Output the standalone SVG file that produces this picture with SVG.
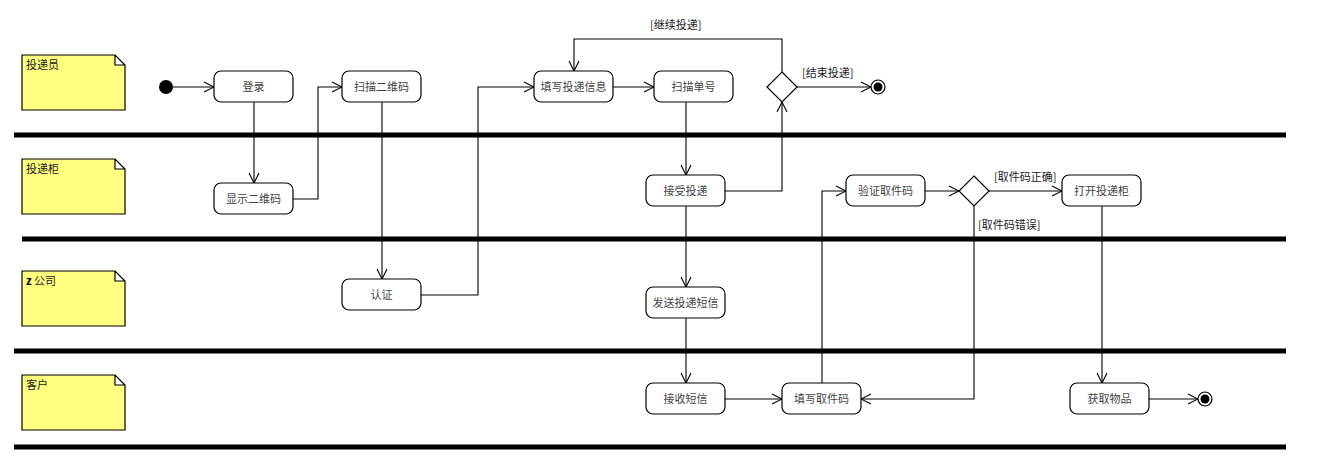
<svg xmlns="http://www.w3.org/2000/svg" width="1331" height="463" viewBox="0 0 1331 463">
<defs>
<marker id="arr" viewBox="0 0 12 12" refX="11" refY="6" markerWidth="12" markerHeight="12" markerUnits="userSpaceOnUse" orient="auto">
<path d="M1,1 L11,6 L1,11" fill="none" stroke="#000" stroke-width="1.1"/>
</marker>
<style>
.lane{stroke:#000;stroke-width:5;}
.note{fill:#FFFF80;stroke:#000;stroke-width:1.2;}
.act{fill:#fff;stroke:#000;stroke-width:1.2;}
.dec{fill:#fff;stroke:#000;stroke-width:1.2;}
.t{font-family:"Noto Sans CJK SC","Liberation Sans",sans-serif;font-size:11px;fill:#444;text-anchor:middle;}
.nt{font-family:"Noto Sans CJK SC","Liberation Sans",sans-serif;font-size:11px;fill:#222;}
.lbl{font-family:"Noto Sans CJK SC","Liberation Sans",sans-serif;font-size:11px;fill:#222;}
.c{fill:none;stroke:#000;stroke-width:1.1;marker-end:url(#arr);}
</style>
</defs>
<rect width="1331" height="463" fill="#fff"/>
<g id="lanes">
<line class="lane" x1="14" y1="135" x2="1286" y2="135"/>
<line class="lane" x1="22" y1="239" x2="1286" y2="239"/>
<line class="lane" x1="14" y1="351" x2="1286" y2="351"/>
<line class="lane" x1="14" y1="447" x2="1286" y2="447"/>
</g>
<g id="note1"><path class="note" d="M22,55 H115 L125,65 V110 H22 Z M115,55 V65 H125"/><text class="nt" x="26" y="69">投递员</text></g>
<g id="note2"><path class="note" d="M22,159 H115 L125,169 V214 H22 Z M115,159 V169 H125"/><text class="nt" x="26" y="173">投递柜</text></g>
<g id="note3"><path class="note" d="M22,271 H115 L125,281 V326 H22 Z M115,271 V281 H125"/><text class="nt" x="26" y="285"><tspan font-weight="bold" fill="#000">z</tspan> 公司</text></g>
<g id="note4"><path class="note" d="M22,375 H115 L125,385 V430 H22 Z M115,375 V385 H125"/><text class="nt" x="26" y="389">客户</text></g>

<g id="connectors">
<path class="c" d="M173,87 H214"/>
<path class="c" d="M254,102 V183"/>
<path class="c" d="M293,199 H318 V87 H342"/>
<path class="c" d="M382,102 V279"/>
<path class="c" d="M421,295 H478 V87 H534"/>
<path class="c" d="M613,87 H654"/>
<path class="c" d="M686,102 V175"/>
<path class="c" d="M725,191 H782 V102"/>
<path class="c" d="M782,72 V39 H574 V71"/>
<text class="lbl" x="650" y="29">[继续投递]</text>
<path class="c" d="M797,87 H871"/>
<text class="lbl" x="802" y="77">[结束投递]</text>
<path class="c" d="M686,206 V287"/>
<path class="c" d="M686,318 V383"/>
<path class="c" d="M725,399 H782"/>
<path class="c" d="M822,383 V191 H846"/>
<path class="c" d="M925,191 H959"/>
<path class="c" d="M989,191 H1062"/>
<text class="lbl" x="994" y="181">[取件码正确]</text>
<path class="c" d="M974,206 V399 H861"/>
<text class="lbl" x="978" y="229">[取件码错误]</text>
<path class="c" d="M1102,206 V383"/>
<path class="c" d="M1149,399 H1198"/>
</g>

<g id="start"><circle cx="166" cy="87" r="7" fill="#000"/></g>
<g id="a_login"><rect class="act" x="214" y="71" width="79" height="31" rx="7"/><text class="t" x="253.5" y="91">登录</text></g>
<g id="a_scanqr"><rect class="act" x="342" y="71" width="79" height="31" rx="7"/><text class="t" x="381.5" y="91">扫描二维码</text></g>
<g id="a_showqr"><rect class="act" x="214" y="183" width="79" height="31" rx="7"/><text class="t" x="253.5" y="203">显示二维码</text></g>
<g id="a_auth"><rect class="act" x="342" y="279" width="79" height="31" rx="7"/><text class="t" x="381.5" y="299">认证</text></g>
<g id="a_fill"><rect class="act" x="534" y="71" width="79" height="31" rx="7"/><text class="t" x="573.5" y="91">填写投递信息</text></g>
<g id="a_scanno"><rect class="act" x="654" y="71" width="79" height="31" rx="7"/><text class="t" x="693.5" y="91">扫描单号</text></g>
<g id="d1"><path class="dec" d="M782,72 L797,87 L782,102 L767,87 Z"/></g>
<g id="end1"><circle cx="878" cy="87" r="7" fill="#fff" stroke="#000" stroke-width="1.2"/><circle cx="878" cy="87" r="4.5" fill="#000"/></g>
<g id="a_accept"><rect class="act" x="646" y="175" width="79" height="31" rx="7"/><text class="t" x="685.5" y="195">接受投递</text></g>
<g id="a_verify"><rect class="act" x="846" y="175" width="79" height="31" rx="7"/><text class="t" x="885.5" y="195">验证取件码</text></g>
<g id="d2"><path class="dec" d="M974,176 L989,191 L974,206 L959,191 Z"/></g>
<g id="a_open"><rect class="act" x="1062" y="175" width="79" height="31" rx="7"/><text class="t" x="1101.5" y="195">打开投递柜</text></g>
<g id="a_sms"><rect class="act" x="646" y="287" width="79" height="31" rx="7"/><text class="t" x="685.5" y="307">发送投递短信</text></g>
<g id="a_recv"><rect class="act" x="646" y="383" width="79" height="31" rx="7"/><text class="t" x="685.5" y="403">接收短信</text></g>
<g id="a_code"><rect class="act" x="782" y="383" width="79" height="31" rx="7"/><text class="t" x="821.5" y="403">填写取件码</text></g>
<g id="a_get"><rect class="act" x="1070" y="383" width="79" height="31" rx="7"/><text class="t" x="1109.5" y="403">获取物品</text></g>
<g id="end2"><circle cx="1205" cy="399" r="7" fill="#fff" stroke="#000" stroke-width="1.2"/><circle cx="1205" cy="399" r="4.5" fill="#000"/></g>
</svg>
